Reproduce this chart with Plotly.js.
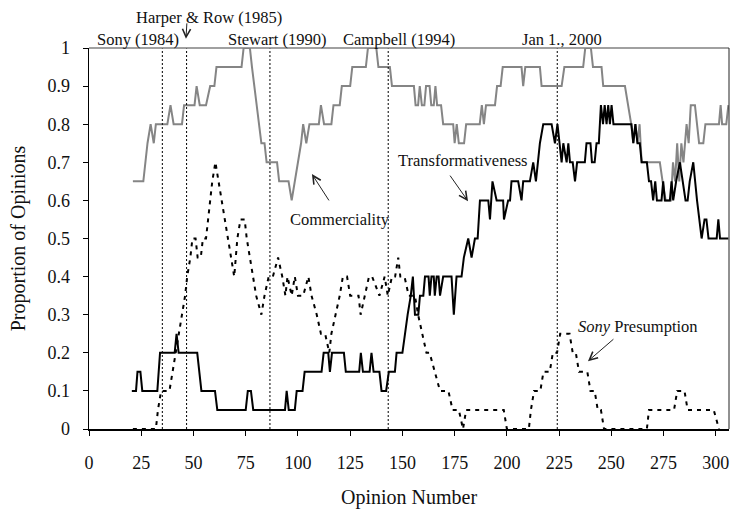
<!DOCTYPE html>
<html>
<head>
<meta charset="utf-8">
<script src="https://cdn.plot.ly/plotly-3.0.1.min.js"></script>
<style>html,body{margin:0;padding:0;background:#fff;}#chart{width:735px;height:513px;}</style>
</head>
<body>
<div id="chart"></div>
<script>
// ---- data (opinion number, proportion) ----
const commerciality = [
 [21,0.65],[26,0.65],[28,0.75],[29.5,0.8],[31,0.75],[32,0.8],[37.5,0.8],[39,0.85],[40.5,0.8],[44.5,0.8],
 [45.5,0.85],[50.5,0.85],[51.5,0.9],[53,0.85],[56,0.85],[58,0.9],[60,0.9],[61,0.95],[73,0.95],[74,1],
 [77,1],[78,0.95],[82.5,0.75],[84,0.75],[85,0.7],[90,0.7],[91,0.65],[95.5,0.65],[97,0.6],[98.5,0.65],
 [100,0.7],[101.5,0.75],[102.5,0.8],[104,0.75],[105.5,0.8],[110,0.8],[111,0.85],[112.5,0.8],[116,0.8],[117,0.85],
 [120,0.85],[121,0.9],[125,0.9],[126,0.95],[132.5,0.95],[133.5,1],[137.5,1],[138.5,0.95],[144,0.95],[145,0.9],
 [155.5,0.9],[156.3,0.85],[157.5,0.85],[158.3,0.9],[159.3,0.85],[160.5,0.85],[161.3,0.9],[163,0.9],[163.8,0.85],[165,0.85],
 [165.8,0.9],[166.6,0.85],[168.5,0.85],[169.5,0.8],[174.3,0.8],[175,0.75],[176,0.8],[177,0.75],[179.5,0.75],[180.5,0.8],
 [187,0.8],[188,0.85],[189,0.8],[190,0.85],[194.3,0.85],[195.3,0.9],[197,0.9],[198,0.95],[207,0.95],[207.8,0.9],
 [208.8,0.95],[215.8,0.95],[216.6,0.9],[226.2,0.9],[227.5,0.95],[236.5,0.95],[237.5,1],[240.2,1],[241.2,0.95],[245.3,0.95],
 [246.1,0.9],[256.5,0.9],[258,0.85],[259.5,0.8],[260.5,0.75],[261.5,0.8],[262.5,0.75],[263.5,0.8],[264.5,0.7],[273.2,0.7],
 [274.5,0.65],[276,0.6],[278.5,0.6],[279.5,0.7],[280.5,0.65],[281.5,0.75],[282.5,0.65],[283.5,0.75],[284.5,0.7],[286,0.8],
 [287,0.75],[288,0.85],[290,0.85],[291,0.8],[292,0.75],[294,0.75],[295,0.8],[301.5,0.8],[302.3,0.85],[303,0.8],
 [305,0.8],[306,0.85]
];
const transformativeness = [
 [20.5,0.1],[22.5,0.1],[23.2,0.15],[24.6,0.15],[25.5,0.1],[32.7,0.1],[34,0.2],[41,0.2],[41.9,0.25],[42.9,0.2],
 [51.8,0.2],[53.8,0.1],[60.3,0.1],[61.4,0.05],[75,0.05],[76,0.1],[77.5,0.1],[78.6,0.05],[93.8,0.05],[94.6,0.1],
 [95.6,0.05],[98.5,0.05],[99.4,0.1],[102.2,0.1],[103.2,0.15],[111.3,0.15],[112.3,0.2],[114.5,0.2],[115.3,0.15],[116.3,0.2],
 [122,0.2],[122.9,0.15],[129.3,0.15],[130.1,0.2],[131.1,0.15],[134.3,0.15],[135.2,0.2],[136.2,0.15],[139,0.15],[140,0.1],
 [142.2,0.1],[143.5,0.15],[146.4,0.15],[147.2,0.2],[150,0.2],[151.2,0.25],[152.5,0.3],[154,0.35],[155,0.4],[156,0.3],
 [157.6,0.3],[158.4,0.35],[160,0.35],[160.8,0.4],[162.5,0.4],[163.1,0.35],[163.9,0.4],[165,0.4],[165.5,0.35],[166.4,0.4],
 [167.3,0.4],[168,0.35],[169.5,0.4],[173.5,0.4],[174.6,0.3],[175.9,0.4],[178.3,0.4],[179.4,0.45],[181.5,0.5],[183.1,0.45],
 [184.7,0.5],[186,0.5],[187.1,0.6],[191.1,0.6],[191.9,0.55],[193.1,0.65],[195.1,0.6],[198.2,0.6],[198.6,0.55],[200.6,0.6],
 [201.5,0.6],[202.2,0.65],[205.4,0.65],[207,0.6],[207.8,0.65],[211,0.65],[212.6,0.7],[213.9,0.65],[215.8,0.75],[217.4,0.8],
 [221.4,0.8],[223,0.75],[224.2,0.8],[226.2,0.7],[227,0.75],[228.6,0.7],[229.4,0.75],[230.2,0.7],[231.5,0.7],[232.6,0.65],
 [233.6,0.7],[237.3,0.7],[238.1,0.75],[240,0.75],[240.7,0.7],[242,0.7],[242.9,0.75],[244,0.75],[245,0.85],[246,0.8],
 [246.8,0.85],[247.7,0.8],[248.5,0.85],[249.3,0.8],[250.1,0.85],[251,0.8],[259.6,0.8],[260.5,0.75],[261.5,0.8],[262.5,0.75],
 [263.6,0.75],[264.5,0.7],[267,0.7],[268,0.65],[269,0.65],[270,0.6],[271,0.65],[271.8,0.6],[274,0.6],[274.8,0.65],
 [275.6,0.6],[278,0.6],[278.8,0.65],[279.6,0.6],[281,0.65],[282.8,0.7],[284,0.65],[285.5,0.6],[286.5,0.6],[287.5,0.65],
 [289.2,0.7],[291,0.6],[293.2,0.5],[294.6,0.55],[295.5,0.55],[296.5,0.5],[300.4,0.5],[301.2,0.55],[302,0.5],[306,0.5]
];
const sonyPresumption = [
 [21,0],[32,0],[33,0.05],[34.5,0.1],[38.5,0.1],[40,0.15],[41.5,0.2],[43,0.25],[44.5,0.3],[46,0.35],
 [47,0.4],[48.5,0.45],[49.5,0.5],[51,0.5],[52,0.45],[53.5,0.45],[54.5,0.5],[56,0.5],[57,0.55],[58,0.6],
 [59,0.65],[60.5,0.7],[62,0.65],[63.5,0.6],[65,0.55],[66.5,0.5],[68,0.45],[69.5,0.4],[71,0.5],[72.5,0.55],
 [74.5,0.55],[75.5,0.5],[77,0.45],[78.5,0.4],[80,0.35],[82.5,0.3],[84,0.35],[86,0.4],[88,0.4],[90.5,0.45],
 [92.5,0.4],[94,0.35],[95,0.4],[97,0.35],[98.5,0.4],[100,0.35],[102.5,0.35],[105,0.4],[106.5,0.35],[109,0.3],
 [111,0.25],[113,0.25],[115,0.2],[116,0.25],[118,0.3],[120,0.35],[121.5,0.4],[123.5,0.4],[125,0.35],[129,0.35],
 [130,0.3],[132,0.35],[134,0.4],[135.5,0.4],[139,0.35],[141.5,0.4],[143,0.35],[145,0.4],[146.5,0.4],[148,0.45],
 [149,0.4],[151,0.4],[153,0.35],[156,0.35],[157.5,0.3],[159.5,0.25],[161.5,0.2],[163,0.2],[165.5,0.15],[168,0.1],
 [172,0.1],[174,0.05],[177,0.05],[179,0],[180.5,0.05],[198.5,0.05],[200,0],[210.5,0],[211.5,0.05],[213,0.1],
 [216,0.1],[217.5,0.15],[220.5,0.15],[222,0.2],[224,0.2],[225.5,0.25],[230,0.25],[231.5,0.2],[233,0.2],[234.5,0.15],
 [238.5,0.15],[240,0.1],[242,0.1],[243.5,0.05],[245,0.05],[246.5,0],[267,0],[268,0.05],[280,0.05],[281.5,0.1],
 [285,0.1],[286.5,0.05],[299,0.05],[301.5,0]
];
const eventNames = ['Sony (1984)', 'Harper & Row (1985)', 'Stewart (1990)', 'Campbell (1994)', 'Jan 1., 2000'];
const eventX = [35.1, 46.7, 86.6, 143.2, 224.1];
const xTicks = [0, 25, 50, 75, 100, 125, 150, 175, 200, 225, 250, 275, 300];
const yTicks = [0, 0.1, 0.2, 0.3, 0.4, 0.5, 0.6, 0.7, 0.8, 0.9, 1];
const yTickLabels = ['0', '0.1', '0.2', '0.3', '0.4', '0.5', '0.6', '0.7', '0.8', '0.9', '1'];

// ---- chart ----
const FONT = 'Liberation Serif, Times New Roman, serif';
const xs = a => a.map(p => p[0]);
const ys = a => a.map(p => p[1]);

const traces = [
  {x: xs(sonyPresumption), y: ys(sonyPresumption), mode: 'lines', name: 'Sony Presumption',
   line: {color: '#000', width: 2, dash: '4px,5px'}},
  {x: xs(commerciality), y: ys(commerciality), mode: 'lines', name: 'Commerciality',
   line: {color: '#858585', width: 2}},
  {x: xs(transformativeness), y: ys(transformativeness), mode: 'lines', name: 'Transformativeness',
   line: {color: '#000', width: 2}}
];

const shapes = eventX.map(x => ({type: 'line', xref: 'x', yref: 'y', x0: x, x1: x, y0: 0, y1: 1,
  line: {color: '#000', width: 1, dash: '2px,2px'}}));
shapes.push({type: 'line', xref: 'paper', yref: 'paper', x0: 0, x1: 1, y0: 1, y1: 1, line: {color: '#808080', width: 1.5}});
shapes.push({type: 'line', xref: 'paper', yref: 'paper', x0: 1, x1: 1, y0: 0, y1: 1, line: {color: '#222', width: 1}});

const labelPos = [[23.3, 1.022], [57.4, 1.079], [90, 1.022], [148.4, 1.022], [226.4, 1.022]];
const annotations = eventNames.map((t, i) => ({x: labelPos[i][0], y: labelPos[i][1], xref: 'x', yref: 'paper',
  text: t, showarrow: false, xanchor: 'center', yanchor: 'middle', font: {family: FONT, size: 16.5, color: '#111'}}));

const textFont = {family: FONT, size: 16.5, color: '#111'};
annotations.push({x: 120.1, y: 0.549, xref: 'x', yref: 'y', text: 'Commerciality', showarrow: false, font: textFont});
annotations.push({x: 179, y: 0.706, xref: 'x', yref: 'y', text: 'Transformativeness', showarrow: false, font: textFont});
annotations.push({x: 262.7, y: 0.268, xref: 'x', yref: 'y', text: '<i>Sony</i> Presumption', showarrow: false, font: textFont});

const arrow = (hx, hy, tx, ty) => ({x: hx, y: hy, ax: tx, ay: ty, xref: 'x', yref: 'y', axref: 'x', ayref: 'y',
  text: '', showarrow: true, arrowhead: 5, arrowsize: 1.6, arrowwidth: 1, arrowcolor: '#222', standoff: 0, startstandoff: 0});
annotations.push(arrow(106.7, 0.669, 115.3, 0.596));
annotations.push(arrow(181.4, 0.598, 172.3, 0.669));
annotations.push(arrow(238.8, 0.178, 251.7, 0.239));
// Harper & Row pointer (above the plot area, so paper-referenced)
annotations.push({x: 46.4, y: 1.024, xref: 'x', yref: 'paper', ax: 1, ay: -17, axref: 'pixel', ayref: 'pixel',
  text: '', showarrow: true, arrowhead: 5, arrowsize: 1.6, arrowwidth: 1, arrowcolor: '#222', standoff: 0, startstandoff: 0});

const layout = {
  width: 735, height: 513,
  margin: {l: 89, r: 6, t: 48, b: 84, pad: 0},
  paper_bgcolor: '#fff', plot_bgcolor: '#fff',
  showlegend: false,
  xaxis: {range: [0, 306.3], tickvals: xTicks, ticktext: xTicks.map(String), ticks: 'outside', ticklen: 5,
    tickwidth: 1, tickcolor: '#000', showline: true, linecolor: '#000', linewidth: 2, showgrid: false, zeroline: false,
    tickfont: {family: FONT, size: 18, color: '#111'}, ticklabelstandoff: 11,
    title: {text: 'Opinion Number', font: {family: FONT, size: 20, color: '#111'}, standoff: 18}},
  yaxis: {range: [0, 1], tickvals: yTicks, ticktext: yTickLabels, ticks: 'outside', ticklen: 5,
    tickwidth: 1, tickcolor: '#000', showline: true, linecolor: '#000', linewidth: 1.5, showgrid: false, zeroline: false,
    tickfont: {family: FONT, size: 18, color: '#111'}, ticklabelstandoff: 9,
    title: {text: 'Proportion of Opinions', font: {family: FONT, size: 20, color: '#111'}, standoff: 16}},
  shapes: shapes,
  annotations: annotations
};

Plotly.newPlot('chart', traces, layout, {displayModeBar: false, staticPlot: true});
</script>
</body>
</html>
